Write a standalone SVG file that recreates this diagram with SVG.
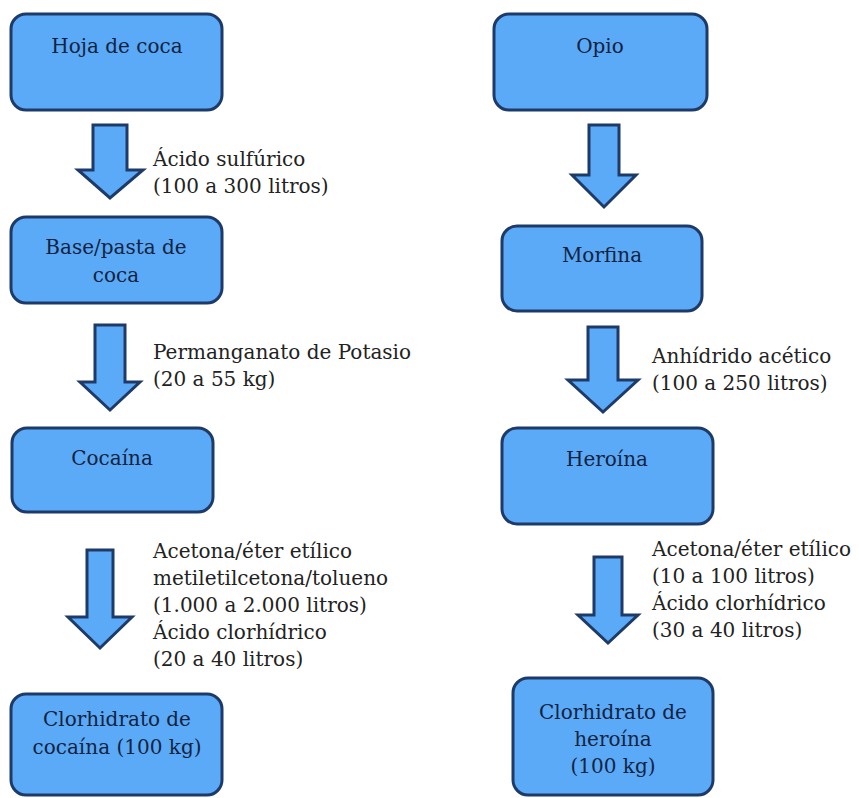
<svg xmlns="http://www.w3.org/2000/svg" width="859" height="798" viewBox="0 0 859 798">
<style>
.box{fill:#5AAAF8;stroke:#1E3A68;stroke-width:3}
.arr{fill:#5AAAF8;stroke:#1E3A68;stroke-width:3;stroke-linejoin:miter}
.bt{font-family:"DejaVu Serif","Liberation Serif",serif;font-size:20px;fill:#14233F;text-anchor:middle}
.lt{font-family:"DejaVu Serif","Liberation Serif",serif;font-size:20px;fill:#222}
</style>
<rect width="859" height="798" fill="#fff"/>
<g id="connectors">
<polygon class="arr" points="93,125 127,125 127,170 143,170 110,198 78,170 93,170"/>
<polygon class="arr" points="95,325 125,325 125,382 140,382 110,410 80,382 95,382"/>
<polygon class="arr" points="87,550 113,550 113,617 132,617 100,648 68,617 87,617"/>
<polygon class="arr" points="589,125 619,125 619,175 636,175 604,207 572,175 589,175"/>
<polygon class="arr" points="588,327 618,327 618,380 638,380 603,412 568,380 588,380"/>
<polygon class="arr" points="594,557 622,557 622,615 638,615 608,643 578,615 594,615"/>
<text class="lt" x="153" y="166">Ácido sulfúrico</text>
<text class="lt" x="153" y="193">(100 a 300 litros)</text>
<text class="lt" x="153" y="359">Permanganato de Potasio</text>
<text class="lt" x="153" y="386">(20 a 55 kg)</text>
<text class="lt" x="153" y="558">Acetona/éter etílico</text>
<text class="lt" x="153" y="585">metiletilcetona/tolueno</text>
<text class="lt" x="153" y="612">(1.000 a 2.000 litros)</text>
<text class="lt" x="153" y="639">Ácido clorhídrico</text>
<text class="lt" x="153" y="666">(20 a 40 litros)</text>
<text class="lt" x="652" y="363">Anhídrido acético</text>
<text class="lt" x="652" y="390">(100 a 250 litros)</text>
<text class="lt" x="652" y="556">Acetona/éter etílico</text>
<text class="lt" x="652" y="583">(10 a 100 litros)</text>
<text class="lt" x="652" y="610">Ácido clorhídrico</text>
<text class="lt" x="652" y="637">(30 a 40 litros)</text>
</g>
<g id="hoja"><rect class="box" x="11" y="14" width="211" height="96" rx="15"/><text class="bt" x="117" y="53">Hoja de coca</text></g>
<g id="base"><rect class="box" x="11" y="217" width="211" height="86" rx="15"/><text class="bt" x="116" y="254">Base/pasta de</text><text class="bt" x="116" y="282">coca</text></g>
<g id="cocaina"><rect class="box" x="12" y="428" width="201" height="84" rx="15"/><text class="bt" x="112" y="465">Cocaína</text></g>
<g id="clorcocaina"><rect class="box" x="11" y="694" width="211" height="101" rx="15"/><text class="bt" x="117" y="726">Clorhidrato de</text><text class="bt" x="117" y="754">cocaína (100 kg)</text></g>
<g id="opio"><rect class="box" x="494" y="14" width="213" height="96" rx="15"/><text class="bt" x="600" y="53">Opio</text></g>
<g id="morfina"><rect class="box" x="502" y="226" width="200" height="85" rx="15"/><text class="bt" x="602" y="262">Morfina</text></g>
<g id="heroina"><rect class="box" x="502" y="428" width="211" height="96" rx="15"/><text class="bt" x="607" y="466">Heroína</text></g>
<g id="clorheroina"><rect class="box" x="513" y="678" width="200" height="117" rx="15"/><text class="bt" x="613" y="719">Clorhidrato de</text><text class="bt" x="613" y="746">heroína</text><text class="bt" x="613" y="773">(100 kg)</text></g>
</svg>
